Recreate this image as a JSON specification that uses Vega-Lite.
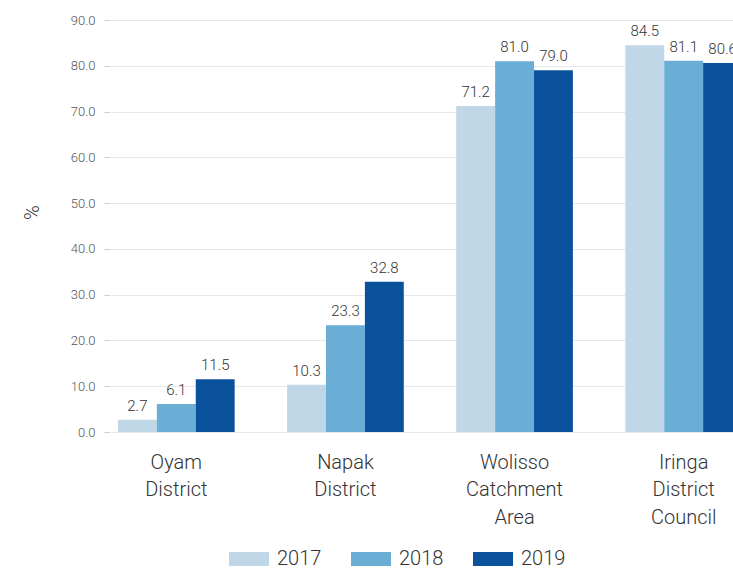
{
  "$schema": "https://vega.github.io/schema/vega-lite/v6.json",
  "autosize": "none",
  "width": 624,
  "height": 412,
  "padding": {"left": 109, "top": 20, "right": 0, "bottom": 136},
  "background": "white",
  "config": {
    "view": {"stroke": null},
    "font": "Roboto"
  },
  "data": {
    "values": [
      {"area": "Oyam District", "year": "2017", "value": 2.7},
      {"area": "Oyam District", "year": "2018", "value": 6.1},
      {"area": "Oyam District", "year": "2019", "value": 11.5},
      {"area": "Napak District", "year": "2017", "value": 10.3},
      {"area": "Napak District", "year": "2018", "value": 23.3},
      {"area": "Napak District", "year": "2019", "value": 32.8},
      {"area": "Wolisso Catchment Area", "year": "2017", "value": 71.2},
      {"area": "Wolisso Catchment Area", "year": "2018", "value": 81.0},
      {"area": "Wolisso Catchment Area", "year": "2019", "value": 79.0},
      {"area": "Iringa District Council", "year": "2017", "value": 84.5},
      {"area": "Iringa District Council", "year": "2018", "value": 81.1},
      {"area": "Iringa District Council", "year": "2019", "value": 80.6}
    ]
  },
  "encoding": {
    "x": {
      "field": "area",
      "type": "nominal",
      "sort": null,
      "scale": {"paddingInner": 0.31, "paddingOuter": 0.053, "range": [0, 642]},
      "axis": {
        "title": null,
        "labelAngle": 0,
        "labelExpr": "split(datum.label, ' ')",
        "labelFontSize": 20,
        "labelFontWeight": 300,
        "labelLineHeight": 27.5,
        "labelColor": "#333333",
        "labelPadding": 20,
        "ticks": false,
        "domain": false,
        "grid": false
      }
    },
    "xOffset": {"field": "year", "type": "nominal", "scale": {"paddingInner": 0, "paddingOuter": 0}},
    "y": {
      "field": "value",
      "type": "quantitative",
      "scale": {"domain": [0, 90]},
      "axis": {
        "title": "%",
        "titleFontSize": 20,
        "titleFontWeight": 300,
        "titleColor": "#333333",
        "titlePadding": 28,
        "titleY": 192,
        "values": [0, 10, 20, 30, 40, 50, 60, 70, 80, 90],
        "format": ".1f",
        "labelFontSize": 13,
        "labelFontWeight": 300,
        "labelColor": "#555555",
        "labelPadding": 9,
        "tickSize": 5,
        "tickColor": "#cccccc",
        "gridColor": "#e8e8e8",
        "domain": false
      }
    }
  },
  "layer": [
    {
      "mark": {"type": "bar", "clip": true},
      "encoding": {
        "color": {
          "field": "year",
          "type": "nominal",
          "scale": {"range": ["#bfd7e6", "#6aaed6", "#0a529c"]},
          "legend": {
            "title": null,
            "orient": "none",
            "direction": "horizontal",
            "legendX": 119,
            "legendY": 518,
            "symbolType": "M-1,-0.35L1,-0.35L1,0.35L-1,0.35Z",
            "symbolSize": 1600,
            "symbolOpacity": 1,
            "labelFontSize": 20,
            "labelFontWeight": 300,
            "labelColor": "#333333",
            "labelOffset": 7,
            "columnPadding": 28
          }
        }
      }
    },
    {
      "mark": {"type": "text", "clip": true, "baseline": "bottom", "dy": -6, "fontSize": 15, "fontWeight": 300, "color": "#333333"},
      "encoding": {
        "text": {"field": "value", "type": "quantitative", "format": ".1f"}
      }
    }
  ]
}
